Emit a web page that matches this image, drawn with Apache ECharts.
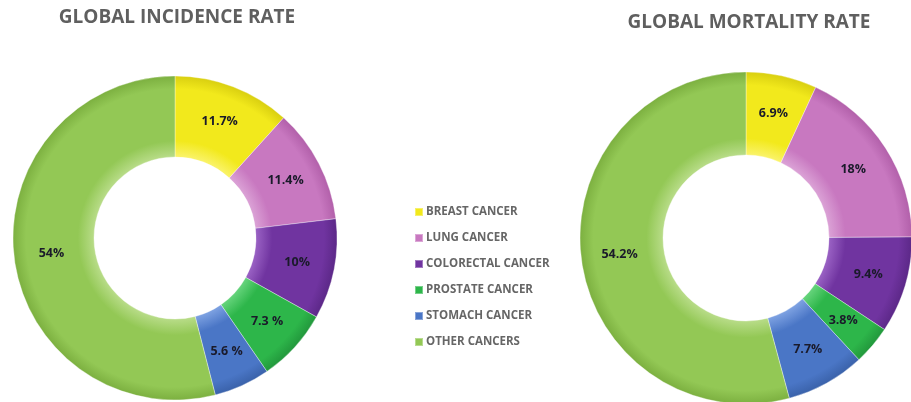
<!DOCTYPE html>
<html>
<head>
<meta charset="utf-8">
<title>Global Cancer Incidence and Mortality</title>
<script src="https://cdn.jsdelivr.net/npm/echarts@6/dist/echarts.min.js"></script>
<style>
  html, body { margin: 0; padding: 0; background: #ffffff; }
  #chart { width: 911px; height: 402px; }
</style>
</head>
<body>
<div id="chart"></div>
<script>
// Cancer types, shared by both rings
const categories = ['BREAST CANCER', 'LUNG CANCER', 'COLORECTAL CANCER', 'PROSTATE CANCER', 'STOMACH CANCER', 'OTHER CANCERS'];
// Share of all new cases (%)
const incidenceValues = [11.7, 11.4, 10, 7.3, 5.6, 54];
// Share of all deaths (%)
const mortalityValues = [6.9, 18, 9.4, 3.8, 7.7, 54.2];
// Slices whose label is printed with a space before the percent sign
const incidenceSpaced = ['PROSTATE CANCER', 'STOMACH CANCER'];
const mortalitySpaced = [];

const baseColors = ['#f2e91c', '#c878c0', '#7034a0', '#2db64a', '#4a76c6', '#93c855'];
const lightColors = ['#faf36a', '#dba2d6', '#9a62c4', '#66d47c', '#7ea2e2', '#b8dc88'];
const darkColors = ['#d9cf10', '#b260aa', '#5c2888', '#22983c', '#3a62aa', '#7cb040'];

function sliceStyle(i, cx, cy, r) {
  return {
    color: {
      type: 'radial', x: cx, y: cy, r: r, global: true,
      colorStops: [
        { offset: 0.5, color: lightColors[i] },
        { offset: 0.6, color: baseColors[i] },
        { offset: 0.92, color: baseColors[i] },
        { offset: 1, color: darkColors[i] }
      ]
    },
    borderColor: 'rgba(255,255,255,0.35)',
    borderWidth: 1
  };
}

function ringData(values, cx, cy, r) {
  return categories.map((name, i) => ({
    name: name,
    value: values[i],
    itemStyle: sliceStyle(i, cx, cy, r)
  }));
}

function ring(values, spaced, cx, cy, r) {
  return {
    type: 'pie',
    center: [cx, cy],
    radius: [r * 0.5, r],
    startAngle: 90,
    clockwise: true,
    avoidLabelOverlap: false,
    silent: true,
    label: {
      show: true,
      position: 'inside',
      color: '#1a1a2a',
      fontFamily: 'Open Sans',
      fontWeight: 'bold',
      fontSize: 12.5,
      formatter: p => p.value + (spaced.indexOf(p.name) >= 0 ? ' %' : '%')
    },
    labelLine: { show: false },
    data: ringData(values, cx, cy, r)
  };
}

const titleStyle = { fontFamily: 'Open Sans', fontWeight: 'bold', fontSize: 19, color: '#5f5f5f' };

const chart = echarts.init(document.getElementById('chart'), null, { renderer: 'canvas' });
chart.setOption({
  backgroundColor: '#ffffff',
  animation: false,
  color: baseColors,
  title: [
    { text: 'GLOBAL INCIDENCE RATE', left: 177, top: 8, padding: 0, textAlign: 'center', textStyle: titleStyle },
    { text: 'GLOBAL MORTALITY RATE', left: 749, top: 13, padding: 0, textAlign: 'center', textStyle: titleStyle }
  ],
  legend: {
    orient: 'vertical',
    left: 409,
    top: 200,
    itemWidth: 8,
    itemHeight: 8,
    itemGap: 12,
    icon: 'rect',
    selectedMode: false,
    textStyle: { fontFamily: 'Open Sans', fontWeight: 'bold', fontSize: 11.5, color: '#666666', lineHeight: 14, padding: [0, 0, 0, -2] },
    data: categories.map((name, i) => ({ name: name, itemStyle: { color: baseColors[i] } }))
  },
  series: [
    ring(incidenceValues, incidenceSpaced, 175, 238, 162),
    ring(mortalityValues, mortalitySpaced, 746, 238, 166)
  ]
});
</script>
</body>
</html>
